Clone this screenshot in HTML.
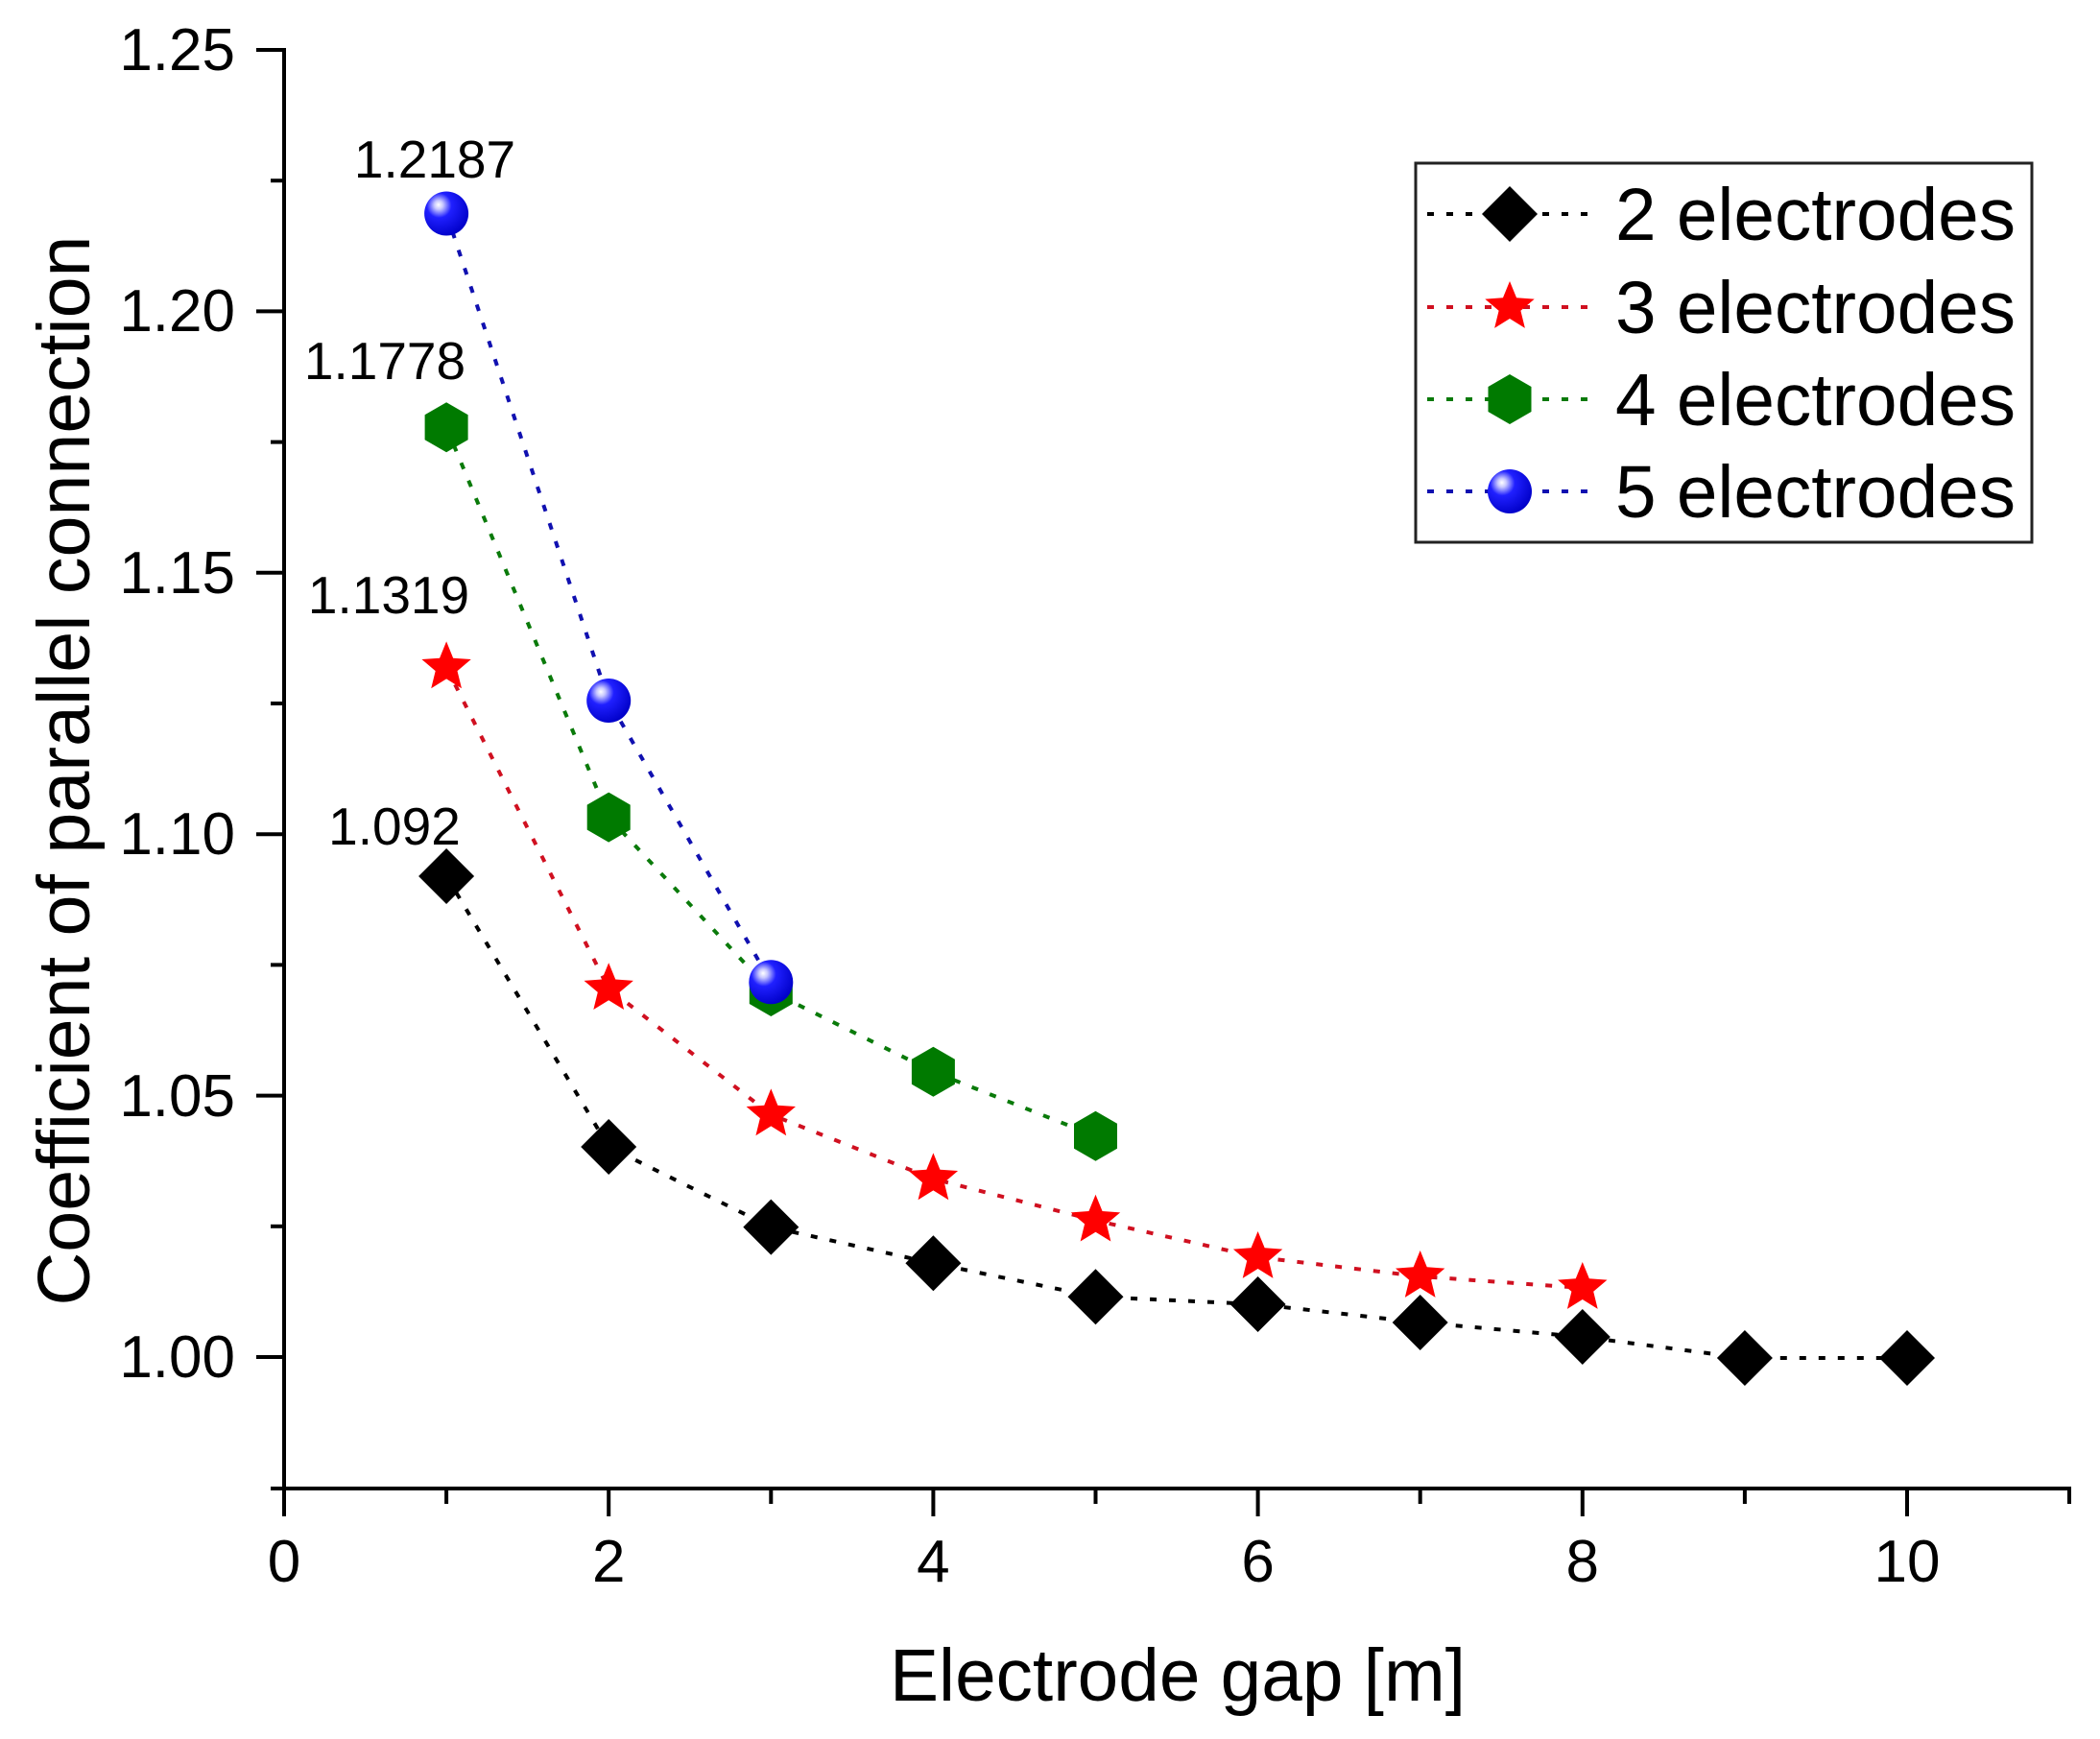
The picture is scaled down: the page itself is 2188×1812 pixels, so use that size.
<!DOCTYPE html>
<html>
<head>
<meta charset="utf-8">
<style>
  html, body { margin: 0; padding: 0; background: #ffffff; }
  svg { display: block; }
  text { font-family: "Liberation Sans", Arial, sans-serif; fill: #000; }
</style>
</head>
<body>
<svg width="2188" height="1812" viewBox="0 0 2188 1812" xmlns="http://www.w3.org/2000/svg">
  <defs>
    <radialGradient id="sph" cx="0.36" cy="0.34" r="0.7" fx="0.32" fy="0.3">
      <stop offset="0" stop-color="#ffffff"/>
      <stop offset="0.14" stop-color="#c8c8ff"/>
      <stop offset="0.4" stop-color="#2020ff"/>
      <stop offset="1" stop-color="#0000c8"/>
    </radialGradient>
    <polygon id="dia" points="0,-29 29,0 0,29 -29,0" fill="#000"/>
    <polygon id="star" points="0,-27 7.05,-9.71 25.68,-8.34 11.41,3.71 15.87,21.84 0,12 -15.87,21.84 -11.41,3.71 -25.68,-8.34 -7.05,-9.71" fill="#ff0000"/>
    <polygon id="hex" points="0,-26 22.5,-13 22.5,13 0,26 -22.5,13 -22.5,-13" fill="#007a00"/>
    <circle id="sp" cx="0" cy="0" r="23" fill="url(#sph)"/>
  </defs>

  <rect x="0" y="0" width="2188" height="1812" fill="#fff"/>

  <!-- Axes -->
  <g stroke="#000" stroke-width="4" fill="none">
    <line x1="296" y1="50" x2="296" y2="1553"/>
    <line x1="294" y1="1551" x2="2158" y2="1551"/>
    <!-- y major ticks -->
    <line x1="267" y1="52" x2="296" y2="52"/>
    <line x1="267" y1="324.4" x2="296" y2="324.4"/>
    <line x1="267" y1="596.8" x2="296" y2="596.8"/>
    <line x1="267" y1="869.2" x2="296" y2="869.2"/>
    <line x1="267" y1="1141.6" x2="296" y2="1141.6"/>
    <line x1="267" y1="1414" x2="296" y2="1414"/>
    <!-- y minor ticks -->
    <line x1="282" y1="188.2" x2="296" y2="188.2"/>
    <line x1="282" y1="460.6" x2="296" y2="460.6"/>
    <line x1="282" y1="733" x2="296" y2="733"/>
    <line x1="282" y1="1005.4" x2="296" y2="1005.4"/>
    <line x1="282" y1="1277.8" x2="296" y2="1277.8"/>
    <line x1="282" y1="1551" x2="296" y2="1551"/>
    <!-- x major ticks -->
    <line x1="296" y1="1551" x2="296" y2="1580"/>
    <line x1="634.2" y1="1551" x2="634.2" y2="1580"/>
    <line x1="972.4" y1="1551" x2="972.4" y2="1580"/>
    <line x1="1310.6" y1="1551" x2="1310.6" y2="1580"/>
    <line x1="1648.8" y1="1551" x2="1648.8" y2="1580"/>
    <line x1="1987" y1="1551" x2="1987" y2="1580"/>
    <!-- x minor ticks -->
    <line x1="465.1" y1="1551" x2="465.1" y2="1567"/>
    <line x1="803.3" y1="1551" x2="803.3" y2="1567"/>
    <line x1="1141.5" y1="1551" x2="1141.5" y2="1567"/>
    <line x1="1479.7" y1="1551" x2="1479.7" y2="1567"/>
    <line x1="1817.9" y1="1551" x2="1817.9" y2="1567"/>
    <line x1="2156" y1="1551" x2="2156" y2="1567"/>
  </g>

  <!-- Y tick labels -->
  <g font-size="62" text-anchor="end">
    <text x="245" y="73">1.25</text>
    <text x="245" y="345">1.20</text>
    <text x="245" y="618">1.15</text>
    <text x="245" y="890">1.10</text>
    <text x="245" y="1163">1.05</text>
    <text x="245" y="1435">1.00</text>
  </g>
  <!-- X tick labels -->
  <g font-size="62" text-anchor="middle">
    <text x="296" y="1648">0</text>
    <text x="634.2" y="1648">2</text>
    <text x="972.4" y="1648">4</text>
    <text x="1310.6" y="1648">6</text>
    <text x="1648.8" y="1648">8</text>
    <text x="1987" y="1648">10</text>
  </g>

  <!-- Axis titles -->
  <text x="1227" y="1772" font-size="77" text-anchor="middle" textLength="600" lengthAdjust="spacingAndGlyphs">Electrode gap [m]</text>
  <text transform="translate(93,803) rotate(-90)" font-size="77" text-anchor="middle" textLength="1115" lengthAdjust="spacingAndGlyphs">Coefficient of parallel connection</text>

  <!-- Series lines -->
  <g fill="none" stroke-width="4" stroke-dasharray="7 13">
    <polyline stroke="#000000" points="465.1,913 634.2,1195 803.3,1278.6 972.4,1316.3 1141.5,1351.2 1310.6,1359 1479.7,1378 1648.8,1393 1817.9,1415 1987,1415"/>
    <polyline stroke="#d01020" points="465.1,695.4 634.2,1030.2 803.3,1161.4 972.4,1228.4 1141.5,1271.7 1310.6,1310 1479.7,1330 1648.8,1342"/>
    <polyline stroke="#0a7a0a" points="465.1,445.3 634.2,851.6 803.3,1033 972.4,1116.8 1141.5,1183.8"/>
    <polyline stroke="#1010b0" points="465.1,222.5 634.2,730 803.3,1023.3"/>
  </g>

  <!-- Markers: 2 electrodes -->
  <use href="#dia" x="465.1" y="913"/>
  <use href="#dia" x="634.2" y="1195"/>
  <use href="#dia" x="803.3" y="1278.6"/>
  <use href="#dia" x="972.4" y="1316.3"/>
  <use href="#dia" x="1141.5" y="1351.2"/>
  <use href="#dia" x="1310.6" y="1359"/>
  <use href="#dia" x="1479.7" y="1378"/>
  <use href="#dia" x="1648.8" y="1393"/>
  <use href="#dia" x="1817.9" y="1415"/>
  <use href="#dia" x="1987" y="1415"/>
  <!-- 3 electrodes -->
  <use href="#star" x="465.1" y="695.4"/>
  <use href="#star" x="634.2" y="1030.2"/>
  <use href="#star" x="803.3" y="1161.4"/>
  <use href="#star" x="972.4" y="1228.4"/>
  <use href="#star" x="1141.5" y="1271.7"/>
  <use href="#star" x="1310.6" y="1310"/>
  <use href="#star" x="1479.7" y="1330"/>
  <use href="#star" x="1648.8" y="1342"/>
  <!-- 4 electrodes -->
  <use href="#hex" x="465.1" y="445.3"/>
  <use href="#hex" x="634.2" y="851.6"/>
  <use href="#hex" x="803.3" y="1033"/>
  <use href="#hex" x="972.4" y="1116.8"/>
  <use href="#hex" x="1141.5" y="1183.8"/>
  <!-- 5 electrodes -->
  <use href="#sp" x="465.1" y="222.5"/>
  <use href="#sp" x="634.2" y="730"/>
  <use href="#sp" x="803.3" y="1023.3"/>

  <!-- Annotations -->
  <g font-size="55" text-anchor="middle">
    <text x="453" y="185">1.2187</text>
    <text x="401" y="395">1.1778</text>
    <text x="405" y="639">1.1319</text>
    <text x="411" y="880">1.092</text>
  </g>

  <!-- Legend -->
  <rect x="1475" y="170" width="642" height="395" fill="#fff" stroke="#222" stroke-width="3"/>
  <g fill="none" stroke-width="4" stroke-dasharray="7 13">
    <line x1="1487" y1="223" x2="1660" y2="223" stroke="#000"/>
    <line x1="1487" y1="320" x2="1660" y2="320" stroke="#d01020"/>
    <line x1="1487" y1="416" x2="1660" y2="416" stroke="#0a7a0a"/>
    <line x1="1487" y1="512" x2="1660" y2="512" stroke="#1010b0"/>
  </g>
  <use href="#dia" x="1573" y="223"/>
  <use href="#star" x="1573" y="320"/>
  <use href="#hex" x="1573" y="416"/>
  <use href="#sp" x="1573" y="512"/>
  <g font-size="77">
    <text x="1683" y="250" textLength="417" lengthAdjust="spacingAndGlyphs">2 electrodes</text>
    <text x="1683" y="347" textLength="417" lengthAdjust="spacingAndGlyphs">3 electrodes</text>
    <text x="1683" y="443" textLength="417" lengthAdjust="spacingAndGlyphs">4 electrodes</text>
    <text x="1683" y="539" textLength="417" lengthAdjust="spacingAndGlyphs">5 electrodes</text>
  </g>
</svg>
</body>
</html>
